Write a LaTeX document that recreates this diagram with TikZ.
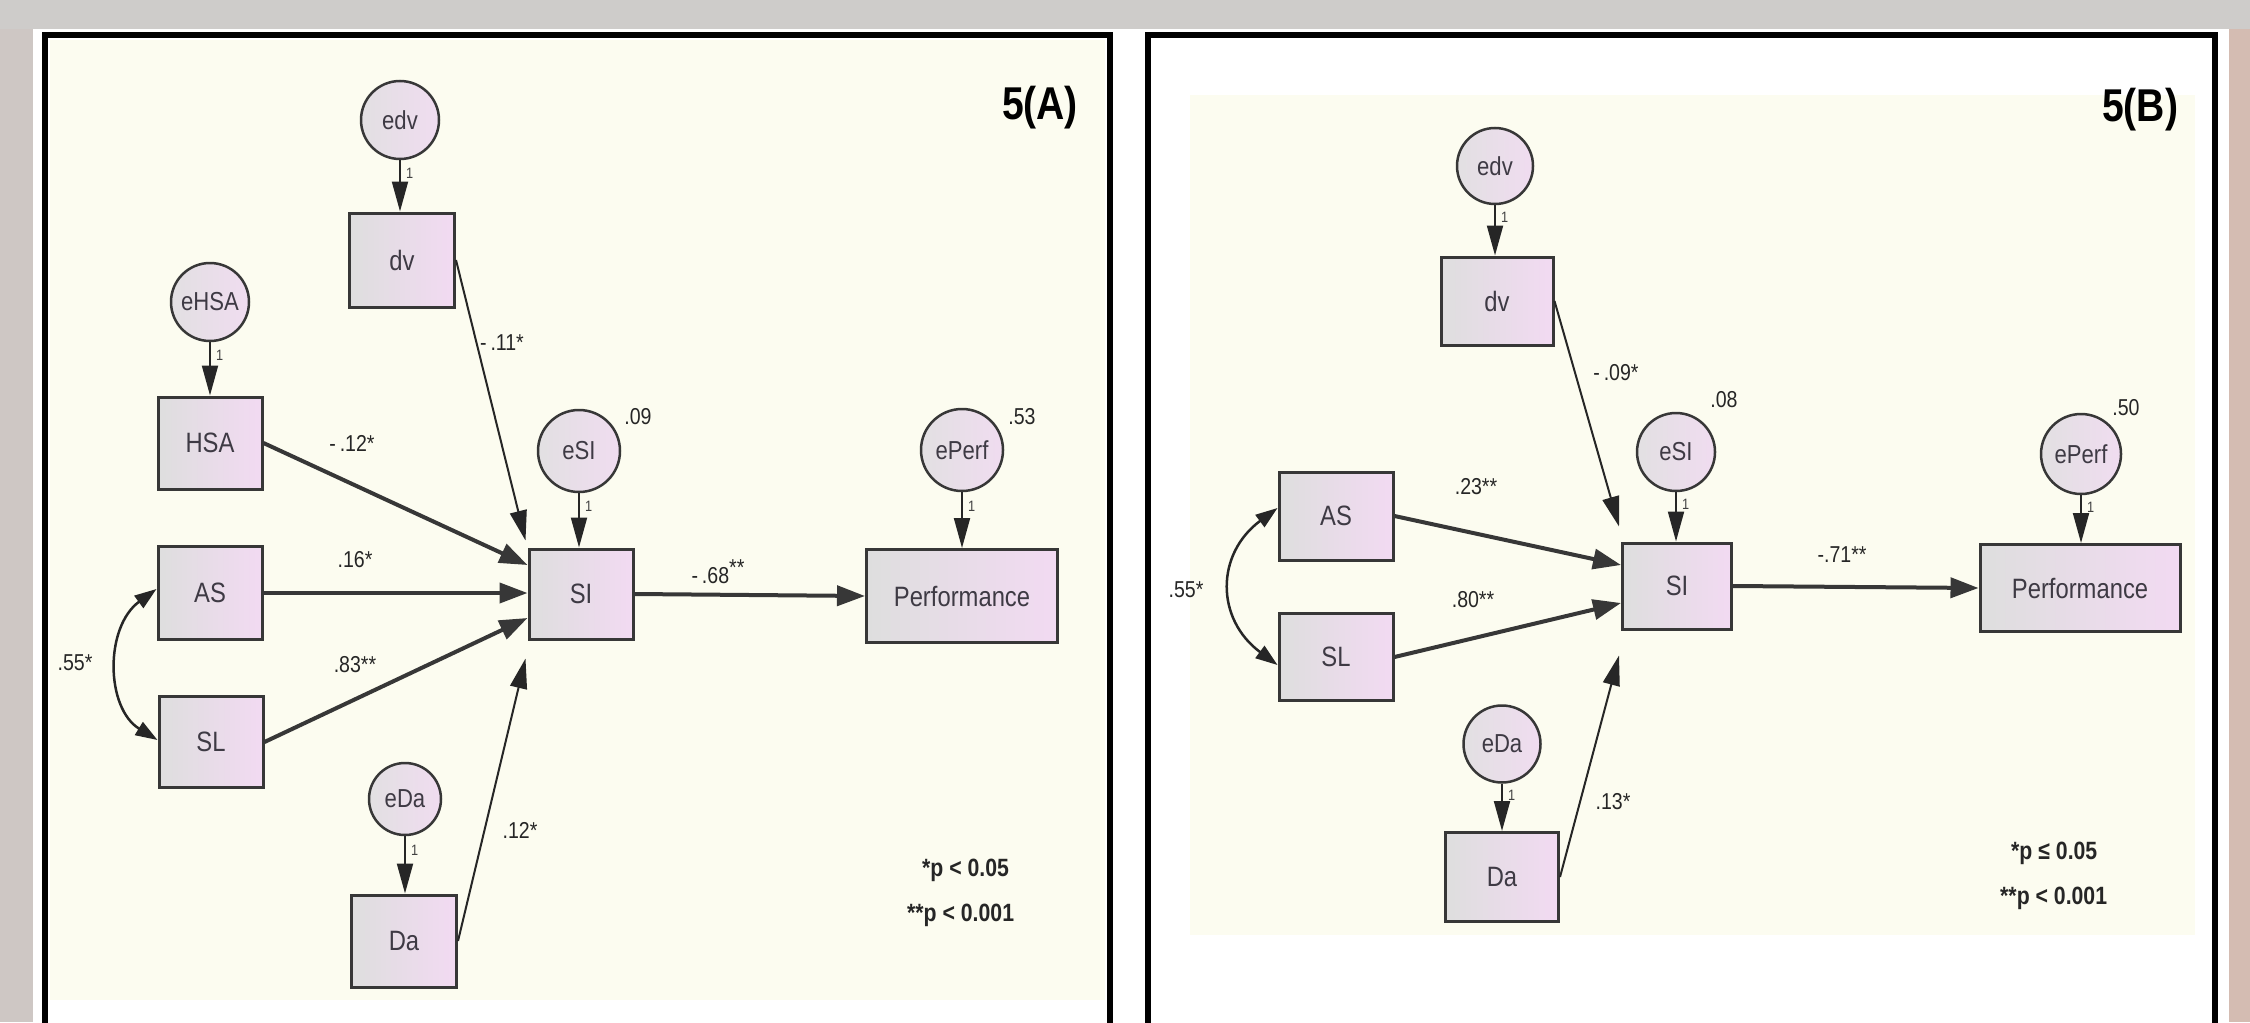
\documentclass[tikz,border=0pt]{standalone}
\usepackage{fontspec}
\setmainfont{Liberation Sans}[FakeStretch=0.85]
\usetikzlibrary{arrows.meta,calc}
\definecolor{bgray}{RGB}{206,204,202}
\definecolor{lstrip}{RGB}{206,199,196}
\definecolor{rstrip}{RGB}{212,188,178}
\definecolor{cream}{RGB}{252,252,240}
\definecolor{boxL}{RGB}{222,222,222}
\definecolor{boxR}{RGB}{242,218,242}
\definecolor{circL}{RGB}{226,224,226}
\definecolor{circR}{RGB}{240,220,240}
\definecolor{edgec}{RGB}{55,55,55}
\definecolor{txtc}{RGB}{62,58,68}
\begin{document}
\begin{tikzpicture}[x=1pt,y=-1pt,
  box/.style={draw=edgec, line width=3pt, rectangle, left color=boxL, right color=boxR, text=txtc, font=\fontsize{28}{28}\selectfont, inner sep=0pt},
  errc/.style={draw=edgec, line width=2.5pt, circle, left color=circL, right color=circR, text=txtc, font=\fontsize{26}{26}\selectfont, inner sep=0pt, minimum size=78pt},
  coef/.style={font=\fontsize{23}{23}\selectfont, text=black!85, inner sep=0pt},
  one/.style={font=\fontsize{15}{15}\selectfont, text=black!75, inner sep=0pt},
  mainarr/.style={draw=edgec, line width=4pt, -{Triangle[length=28pt,width=20pt]}},
  thinarr/.style={draw=black!85, line width=2pt, -{Triangle[length=30pt,width=17pt]}},
  errarr/.style={draw=black!85, line width=2pt, -{Triangle[length=30pt,width=16pt]}},
  covarr/.style={draw=black!85, line width=2.5pt, {Triangle[length=22pt,width=15pt]}-{Triangle[length=22pt,width=15pt]}},
  panel/.style={draw=black, line width=6.5pt},
  ttl/.style={font=\bfseries\fontsize{46}{46}\selectfont, inner sep=0pt},
  legend/.style={font=\bfseries\fontsize{25}{25}\selectfont, anchor=west, inner sep=0pt, text=black!85}
]
\useasboundingbox (0,0) rectangle (2250,1022);
\clip (0,0) rectangle (2250,1022);
% background
\fill[bgray] (0,0) rectangle (2250,1022);
\fill[lstrip] (0,29) rectangle (33,1022);
\fill[rstrip] (2229,29) rectangle (2250,1022);
\fill[white] (33,29) rectangle (2229,1022);
\fill[cream] (50,40) rectangle (1105,1000);
\fill[cream] (1190,95) rectangle (2195,935);
\draw[panel] (45,1040) -- (45,35) -- (1110,35) -- (1110,1040);
\draw[panel] (1148,1040) -- (1148,35) -- (2215,35) -- (2215,1040);

% ================= Panel A =================
\node[ttl] (tA) at (1040,108) {5(A)};
\node[errc] (edvA) at (400,120) {edv};
\node[box, minimum width=105pt, minimum height=94pt] (dvA) at (402,260) {dv};
\node[errc] (eHSA) at (210,302) {eHSA};
\node[box, minimum width=104pt, minimum height=92pt] (HSA) at (210,443) {HSA};
\node[box, minimum width=104pt, minimum height=93pt] (ASA) at (210,593) {AS};
\node[box, minimum width=104pt, minimum height=91pt] (SLA) at (211,742) {SL};
\node[errc, minimum size=82pt] (eSIA) at (579,451) {eSI};
\node[box, minimum width=104pt, minimum height=90pt] (SIA) at (581,594) {SI};
\node[errc, minimum size=82pt] (ePerfA) at (962,450) {ePerf};
\node[box, minimum width=191pt, minimum height=93pt] (PerfA) at (962,596) {Performance};
\node[errc, minimum size=72pt] (eDaA) at (405,799) {eDa};
\node[box, minimum width=105pt, minimum height=92pt] (DaA) at (404,941) {Da};

\draw[errarr] (edvA.south) -- (edvA.south |- dvA.north) node[one, pos=0.25, right=5pt] {1};
\draw[errarr] (eHSA.south) -- (eHSA.south |- HSA.north) node[one, pos=0.25, right=5pt] {1};
\draw[errarr] (eSIA.south) -- (eSIA.south |- SIA.north) node[one, pos=0.25, right=5pt] {1};
\draw[errarr] (ePerfA.south) -- (ePerfA.south |- PerfA.north) node[one, pos=0.25, right=5pt] {1};
\draw[errarr] (eDaA.south) -- (eDaA.south |- DaA.north) node[one, pos=0.25, right=5pt] {1};

\draw[thinarr] (dvA.east) -- ($(SIA.north west)+(-2,-7)$);
\draw[mainarr] (HSA.east) -- ($(SIA.west)+(0,-29)$);
\draw[mainarr] (ASA.east) -- (ASA.east -| SIA.west);
\draw[mainarr] (SLA.east) -- ($(SIA.west)+(0,24)$);
\draw[thinarr] (DaA.east) -- ($(SIA.south west)+(-2,18)$);
\draw[mainarr] (SIA.east) -- (PerfA.west);
\draw[covarr] ($(ASA.west)+(0,-4)$) .. controls ($(ASA.west)+(-52,34)$) and ($(SLA.west)+(-52,-34)$) .. ($(SLA.west)+(0,-2)$);

\node[coef] (cA1) at (502,343) {-\,.11*};
\node[coef] (cA2) at (352,443) {-\,.12*};
\node[coef] (cA3) at (355,560) {.16*};
\node[coef] (cA4) at (355,665) {.83**};
\node[coef] (cA5) at (75,663) {.55*};
\node[coef] (cA6) at (718,572) {-\,.68\raisebox{8pt}{**}};
\node[coef] (cA7) at (520,830) {.12*};
\node[coef] (rA1) at (638,417) {.09};
\node[coef] (rA2) at (1022,417) {.53};
\node[legend] (lA1) at (922,870) {*p < 0.05};
\node[legend] (lA2) at (907,915) {**p < 0.001};

% ================= Panel B =================
\node[ttl] (tB) at (2140,110) {5(B)};
\node[errc, minimum size=76pt] (edvB) at (1495,166) {edv};
\node[box, minimum width=112pt, minimum height=88pt] (dvB) at (1497,301) {dv};
\node[errc, minimum size=78pt] (eSIB) at (1676,452) {eSI};
\node[box, minimum width=109pt, minimum height=86pt] (SIB) at (1677,586) {SI};
\node[errc, minimum size=80pt] (ePerfB) at (2081,454) {ePerf};
\node[box, minimum width=200pt, minimum height=87pt] (PerfB) at (2080,588) {Performance};
\node[box, minimum width=114pt, minimum height=88pt] (ASB) at (1336,516) {AS};
\node[box, minimum width=114pt, minimum height=87pt] (SLB) at (1336,657) {SL};
\node[errc, minimum size=77pt] (eDaB) at (1502,744) {eDa};
\node[box, minimum width=113pt, minimum height=89pt] (DaB) at (1502,877) {Da};

\draw[errarr] (edvB.south) -- (edvB.south |- dvB.north) node[one, pos=0.25, right=5pt] {1};
\draw[errarr] (eSIB.south) -- (eSIB.south |- SIB.north) node[one, pos=0.25, right=5pt] {1};
\draw[errarr] (ePerfB.south) -- (ePerfB.south |- PerfB.north) node[one, pos=0.25, right=5pt] {1};
\draw[errarr] (eDaB.south) -- (eDaB.south |- DaB.north) node[one, pos=0.25, right=5pt] {1};

\draw[thinarr] (dvB.east) -- ($(SIB.north west)+(-2,-15)$);
\draw[mainarr] (ASB.east) -- ($(SIB.west)+(0,-21)$);
\draw[mainarr] (SLB.east) -- ($(SIB.west)+(0,17)$);
\draw[thinarr] (DaB.east) -- ($(SIB.south west)+(-2,25)$);
\draw[mainarr] (SIB.east) -- (PerfB.west);
\draw[covarr] ($(ASB.west)+(0,-8)$) .. controls ($(ASB.west)+(-62,38)$) and ($(SLB.west)+(-62,-38)$) .. ($(SLB.west)+(0,8)$);

\node[coef] (cB1) at (1616,373) {-\,.09*};
\node[coef] (cB2) at (1476,487) {.23**};
\node[coef] (cB3) at (1473,600) {.80**};
\node[coef] (cB4) at (1186,590) {.55*};
\node[coef] (cB5) at (1842,555) {-.71**};
\node[coef] (cB6) at (1613,802) {.13*};
\node[coef] (rB1) at (1724,400) {.08};
\node[coef] (rB2) at (2126,408) {.50};
\node[legend] (lB1) at (2011,853) {*p ≤ 0.05};
\node[legend] (lB2) at (2000,898) {**p < 0.001};
\end{tikzpicture}
\end{document}
